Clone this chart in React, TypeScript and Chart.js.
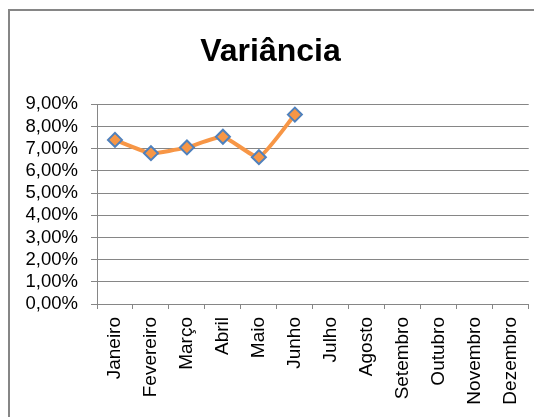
import React, { useEffect, useRef } from "react";
import { Chart, registerables } from "chart.js";

Chart.register(...registerables);

const categories = [
  "Janeiro", "Fevereiro", "Março", "Abril", "Maio", "Junho",
  "Julho", "Agosto", "Setembro", "Outubro", "Novembro", "Dezembro",
];
const variance: (number | null)[] = [7.4, 6.8, 7.06, 7.54, 6.62, 8.54, null, null, null, null, null, null];
const yMin = 0;
const yMax = 9;
const yStep = 1;
const titleText = "Variância";

const FONT = "'Liberation Sans', Arial, sans-serif";

export default function App() {
  const ref = useRef<HTMLCanvasElement | null>(null);
  useEffect(() => {
    if (!ref.current) return;
    const chart = new Chart(ref.current, {
      type: "line",
      data: {
        labels: categories,
        datasets: [
          {
            data: variance,
            borderColor: "#F79646",
            borderWidth: 4,
            tension: 0.15,
            pointStyle: "rectRot",
            pointRadius: 7,
            pointBackgroundColor: "#F79646",
            pointBorderColor: "#4F81BD",
            pointBorderWidth: 2,
            spanGaps: false,
          },
        ],
      },
      options: {
        responsive: false,
        animation: false,
        layout: { padding: { left: 0, right: 11, top: 0, bottom: 0 } },
        plugins: {
          legend: { display: false },
          tooltip: { enabled: false },
          title: {
            display: true,
            text: titleText,
            color: "#000",
            font: { family: FONT, size: 32, weight: "bold" },
            padding: { top: 22, bottom: 33 },
          },
        },
        scales: {
          x: {
            offset: true,
            grid: {
              offset: true,
              drawOnChartArea: false,
              drawTicks: true,
              tickLength: 5,
              color: "#868686",
            },
            border: { color: "#868686" },
            ticks: {
              autoSkip: false,
              maxRotation: 90,
              minRotation: 90,
              padding: 8,
              color: "#000",
              font: { family: FONT, size: 19 },
            },
            afterFit: (s: any) => { s.height = 114; },
          },
          y: {
            min: yMin,
            max: yMax,
            ticks: {
              stepSize: yStep,
              autoSkip: false,
              padding: 13,
              color: "#000",
              font: { family: FONT, size: 18.5 },
              callback: (v: any) => Number(v).toFixed(2).replace(".", ",") + "%",
            },
            grid: { color: "#868686", tickLength: 6 },
            border: { color: "#868686" },
            afterFit: (s: any) => { s.width = 87; },
          },
        },
      },
    });
    return () => chart.destroy();
  }, []);
  return (
    <div
      style={{
        width: 534,
        height: 409,
        marginTop: 1,
        boxSizing: "border-box",
        borderLeft: "2px solid #868686",
        borderTop: "2px solid #868686",
        overflow: "hidden",
        background: "#fff",
      }}
    >
      <canvas ref={ref} width={532} height={407} style={{ display: "block", width: 532, height: 407 }} />
    </div>
  );
}
